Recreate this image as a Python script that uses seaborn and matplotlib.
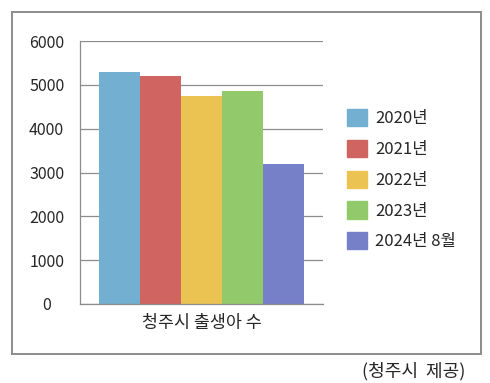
import matplotlib
matplotlib.use("Agg")
import matplotlib.pyplot as plt
import matplotlib.patches as mpatches
import seaborn as sns
import pandas as pd

# Data
years = ["2020년", "2021년", "2022년", "2023년", "2024년 8월"]
births = [5300, 5200, 4750, 4860, 3200]
category = "청주시 출생아 수"
colors = ["#72AFD0", "#CF6461", "#EBC353", "#92C96A", "#7580C8"]
yticks = [0, 1000, 2000, 3000, 4000, 5000, 6000]

df = pd.DataFrame({"group": [category] * len(years), "year": years, "births": births})

sns.set_style("white")
plt.rcParams["font.family"] = ["Noto Sans CJK KR", "DejaVu Sans"]

fig = plt.figure(figsize=(4.9, 3.83), dpi=100)
ax = fig.add_axes([80 / 490, 1 - 304 / 383, 243 / 490, 263 / 383])

sns.barplot(data=df, x="group", y="births", hue="year", palette=colors,
            width=0.84, gap=0, linewidth=0, saturation=1, ax=ax)

grid_c = "#8c8c8c"
ax.set_ylim(0, 6000)
ax.set_xlim(-0.5, 0.5)
ax.set_yticks(yticks)
ax.yaxis.grid(True, color=grid_c, linewidth=0.9)
ax.set_axisbelow(True)
for s in ["top", "right"]:
    ax.spines[s].set_visible(False)
for s in ["left", "bottom"]:
    ax.spines[s].set_color(grid_c)
    ax.spines[s].set_linewidth(0.9)
ax.tick_params(axis="y", length=3, color=grid_c, pad=21, labelsize=11.5)
for lab in ax.get_yticklabels():
    lab.set_ha("center")
ax.tick_params(axis="x", length=0, pad=7, labelsize=12.5)
ax.set_xlabel("")
ax.set_ylabel("")

handles = [mpatches.Patch(color=c, label=y) for c, y in zip(colors, years)]
ax.get_legend().remove()
fig.legend(handles=handles, loc="upper left",
           bbox_to_anchor=(347 / 490, 1 - 109 / 383), frameon=False,
           fontsize=12, borderpad=0, borderaxespad=0,
           handlelength=1.2, handleheight=1.2, labelspacing=0.76,
           handletextpad=0.48)

# outer frame
fig.add_artist(mpatches.Rectangle((11.5 / 490, 1 - 354 / 383), 469 / 490, 342.5 / 383,
                                  transform=fig.transFigure, fill=False,
                                  edgecolor=grid_c, linewidth=1.4))

fig.text(413.5 / 490, 1 - 371 / 383, "(청주시  제공)", ha="center", va="center", fontsize=13)

fig.savefig("out.png", dpi=100)
